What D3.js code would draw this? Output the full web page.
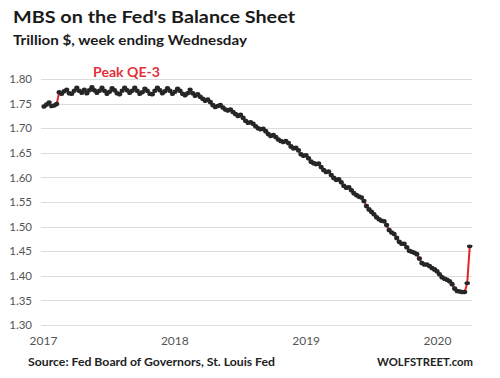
<!DOCTYPE html>
<html>
<head>
<meta charset="utf-8">
<script src="https://cdn.jsdelivr.net/npm/d3@7"></script>
<style>
  html, body { margin: 0; padding: 0; background: #fff; }
  svg { display: block; }
  text { font-family: Lato, "Open Sans", "DejaVu Sans", sans-serif; }
</style>
</head>
<body>
<svg id="chart" width="500" height="378"></svg>
<script>
// ---- Data (weekly, week ending Wednesday, trillion $) ----
const firstWeek = "2017-01-04";
const mbs2017 = [
  1.744, 1.748, 1.752, 1.745,
  1.746, 1.749, 1.773, 1.770,
  1.775, 1.778, 1.771, 1.770, 1.776,
  1.782, 1.776, 1.772, 1.778,
  1.771, 1.777, 1.783, 1.777, 1.772,
  1.776, 1.782, 1.776, 1.770,
  1.774, 1.781, 1.777, 1.771,
  1.769, 1.776, 1.782, 1.777, 1.772,
  1.776, 1.782, 1.776, 1.770,
  1.773, 1.780, 1.776, 1.770,
  1.769, 1.776, 1.782, 1.777, 1.771,
  1.775, 1.781, 1.776, 1.770
];
const mbs2018 = [
  1.774, 1.780, 1.776, 1.770, 1.767,
  1.771, 1.778, 1.771, 1.766,
  1.769, 1.764, 1.760, 1.756,
  1.758, 1.753, 1.747, 1.743,
  1.745, 1.747, 1.742, 1.738, 1.736,
  1.738, 1.733, 1.729, 1.725,
  1.727, 1.721, 1.715, 1.711,
  1.712, 1.709, 1.704, 1.700, 1.698,
  1.699, 1.694, 1.688, 1.684,
  1.686, 1.682, 1.677, 1.674, 1.672,
  1.674, 1.670, 1.663, 1.659,
  1.660, 1.655, 1.647, 1.644
];
const mbs2019 = [
  1.645, 1.639, 1.632, 1.629, 1.627,
  1.628, 1.621, 1.615, 1.611,
  1.612, 1.605, 1.599, 1.595,
  1.596, 1.590, 1.583, 1.579,
  1.580, 1.574, 1.568, 1.564, 1.561,
  1.559, 1.552, 1.542, 1.535,
  1.530, 1.525, 1.519, 1.515, 1.512,
  1.511, 1.503, 1.493, 1.488,
  1.485, 1.477, 1.469, 1.465,
  1.465, 1.458, 1.451, 1.449, 1.447,
  1.444, 1.435, 1.426, 1.423,
  1.423, 1.420, 1.416, 1.413
];
const mbs2020 = [
  1.409, 1.403, 1.397, 1.394, 1.392,
  1.389, 1.383, 1.374, 1.369,
  1.368, 1.367, 1.367, 1.385,
  1.460
];
const yTicks = [1.30, 1.35, 1.40, 1.45, 1.50, 1.55, 1.60, 1.65, 1.70, 1.75, 1.80];
const xTickYears = ["2017", "2018", "2019", "2020"];
const titleText = "MBS on the Fed's Balance Sheet";
const subtitleText = "Trillion $, week ending Wednesday";
const annotationText = "Peak QE-3";
const sourceText = "Source: Fed Board of Governors, St. Louis Fed";
const brandText = "WOLFSTREET.com";

// ---- Build table ----
const values = [...mbs2017, ...mbs2018, ...mbs2019, ...mbs2020];
const parse = d3.utcParse("%Y-%m-%d");
const start = parse(firstWeek);
const data = values.map((v, i) => ({ date: d3.utcDay.offset(start, i * 7), value: v }));

// ---- Scales ----
const svg = d3.select("#chart");
const x = d3.scaleUtc()
  .domain([parse("2017-01-01"), parse("2020-01-01")])
  .range([43, 437]);
const y = d3.scaleLinear().domain([1.30, 1.80]).range([325, 79]);

// ---- Grid ----
svg.append("g")
  .selectAll("line")
  .data(yTicks)
  .join("line")
  .attr("x1", 41).attr("x2", 472)
  .attr("y1", d => Math.round(y(d)) + 0.5)
  .attr("y2", d => Math.round(y(d)) + 0.5)
  .attr("stroke", "#dcdcdc")
  .attr("stroke-width", 1.2);

// ---- Y axis labels ----
const yAxis = d3.axisLeft(y).tickValues(yTicks).tickFormat(d3.format(".2f")).tickSize(0).tickPadding(0);
const gy = svg.append("g").attr("transform", "translate(32,0)").call(yAxis);
gy.select(".domain").remove();
gy.selectAll("text")
  .attr("fill", "#555")
  .attr("font-size", 11.5)
  .attr("font-family", "Lato, 'Open Sans', sans-serif");

// ---- X axis labels ----
const xAxis = d3.axisBottom(x)
  .tickValues(xTickYears.map(s => parse(s + "-01-01")))
  .tickFormat(d3.utcFormat("%Y"))
  .tickSize(0).tickPadding(0);
const gx = svg.append("g").attr("transform", "translate(0,336)").call(xAxis);
gx.select(".domain").remove();
gx.selectAll("text")
  .attr("fill", "#555")
  .attr("font-size", 12)
  .attr("font-family", "Lato, 'Open Sans', sans-serif");

// ---- Line + markers ----
const line = d3.line().x(d => x(d.date)).y(d => y(d.value));
svg.append("path")
  .datum(data)
  .attr("d", line)
  .attr("fill", "none")
  .attr("stroke", "#e3222a")
  .attr("stroke-width", 2);

svg.append("g")
  .selectAll("ellipse")
  .data(data.slice(0, data.length - 2))
  .join("ellipse")
  .attr("cx", d => x(d.date))
  .attr("cy", d => y(d.value))
  .attr("rx", 2.6).attr("ry", 2.3)
  .attr("fill", "#262626");

svg.append("g")
  .selectAll("ellipse")
  .data(data.slice(data.length - 2))
  .join("ellipse")
  .attr("cx", d => x(d.date))
  .attr("cy", d => y(d.value))
  .attr("rx", 2.8).attr("ry", 1.9)
  .attr("fill", "#262626");

// ---- Texts ----
svg.append("text").text(titleText)
  .attr("x", 13).attr("y", 23)
  .attr("font-size", 17).attr("font-weight", "bold").attr("fill", "#1a1a1a")
  .attr("textLength", 282).attr("lengthAdjust", "spacingAndGlyphs");
svg.append("text").text(subtitleText)
  .attr("x", 13).attr("y", 45)
  .attr("font-size", 13.5).attr("font-weight", "bold").attr("fill", "#1a1a1a")
  .attr("textLength", 234).attr("lengthAdjust", "spacingAndGlyphs");
svg.append("text").text(annotationText)
  .attr("x", 93).attr("y", 77)
  .attr("font-size", 13.5).attr("font-weight", "bold").attr("fill", "#e3303a")
  .attr("textLength", 67).attr("lengthAdjust", "spacingAndGlyphs");
svg.append("text").text(sourceText)
  .attr("x", 28).attr("y", 366)
  .attr("font-size", 11.5).attr("font-weight", "bold").attr("fill", "#222")
  .attr("textLength", 247).attr("lengthAdjust", "spacingAndGlyphs");
svg.append("text").text(brandText)
  .attr("x", 377).attr("y", 366)
  .attr("font-size", 11.5).attr("font-weight", "bold").attr("fill", "#222")
  .attr("textLength", 96).attr("lengthAdjust", "spacingAndGlyphs");
</script>
</body>
</html>
